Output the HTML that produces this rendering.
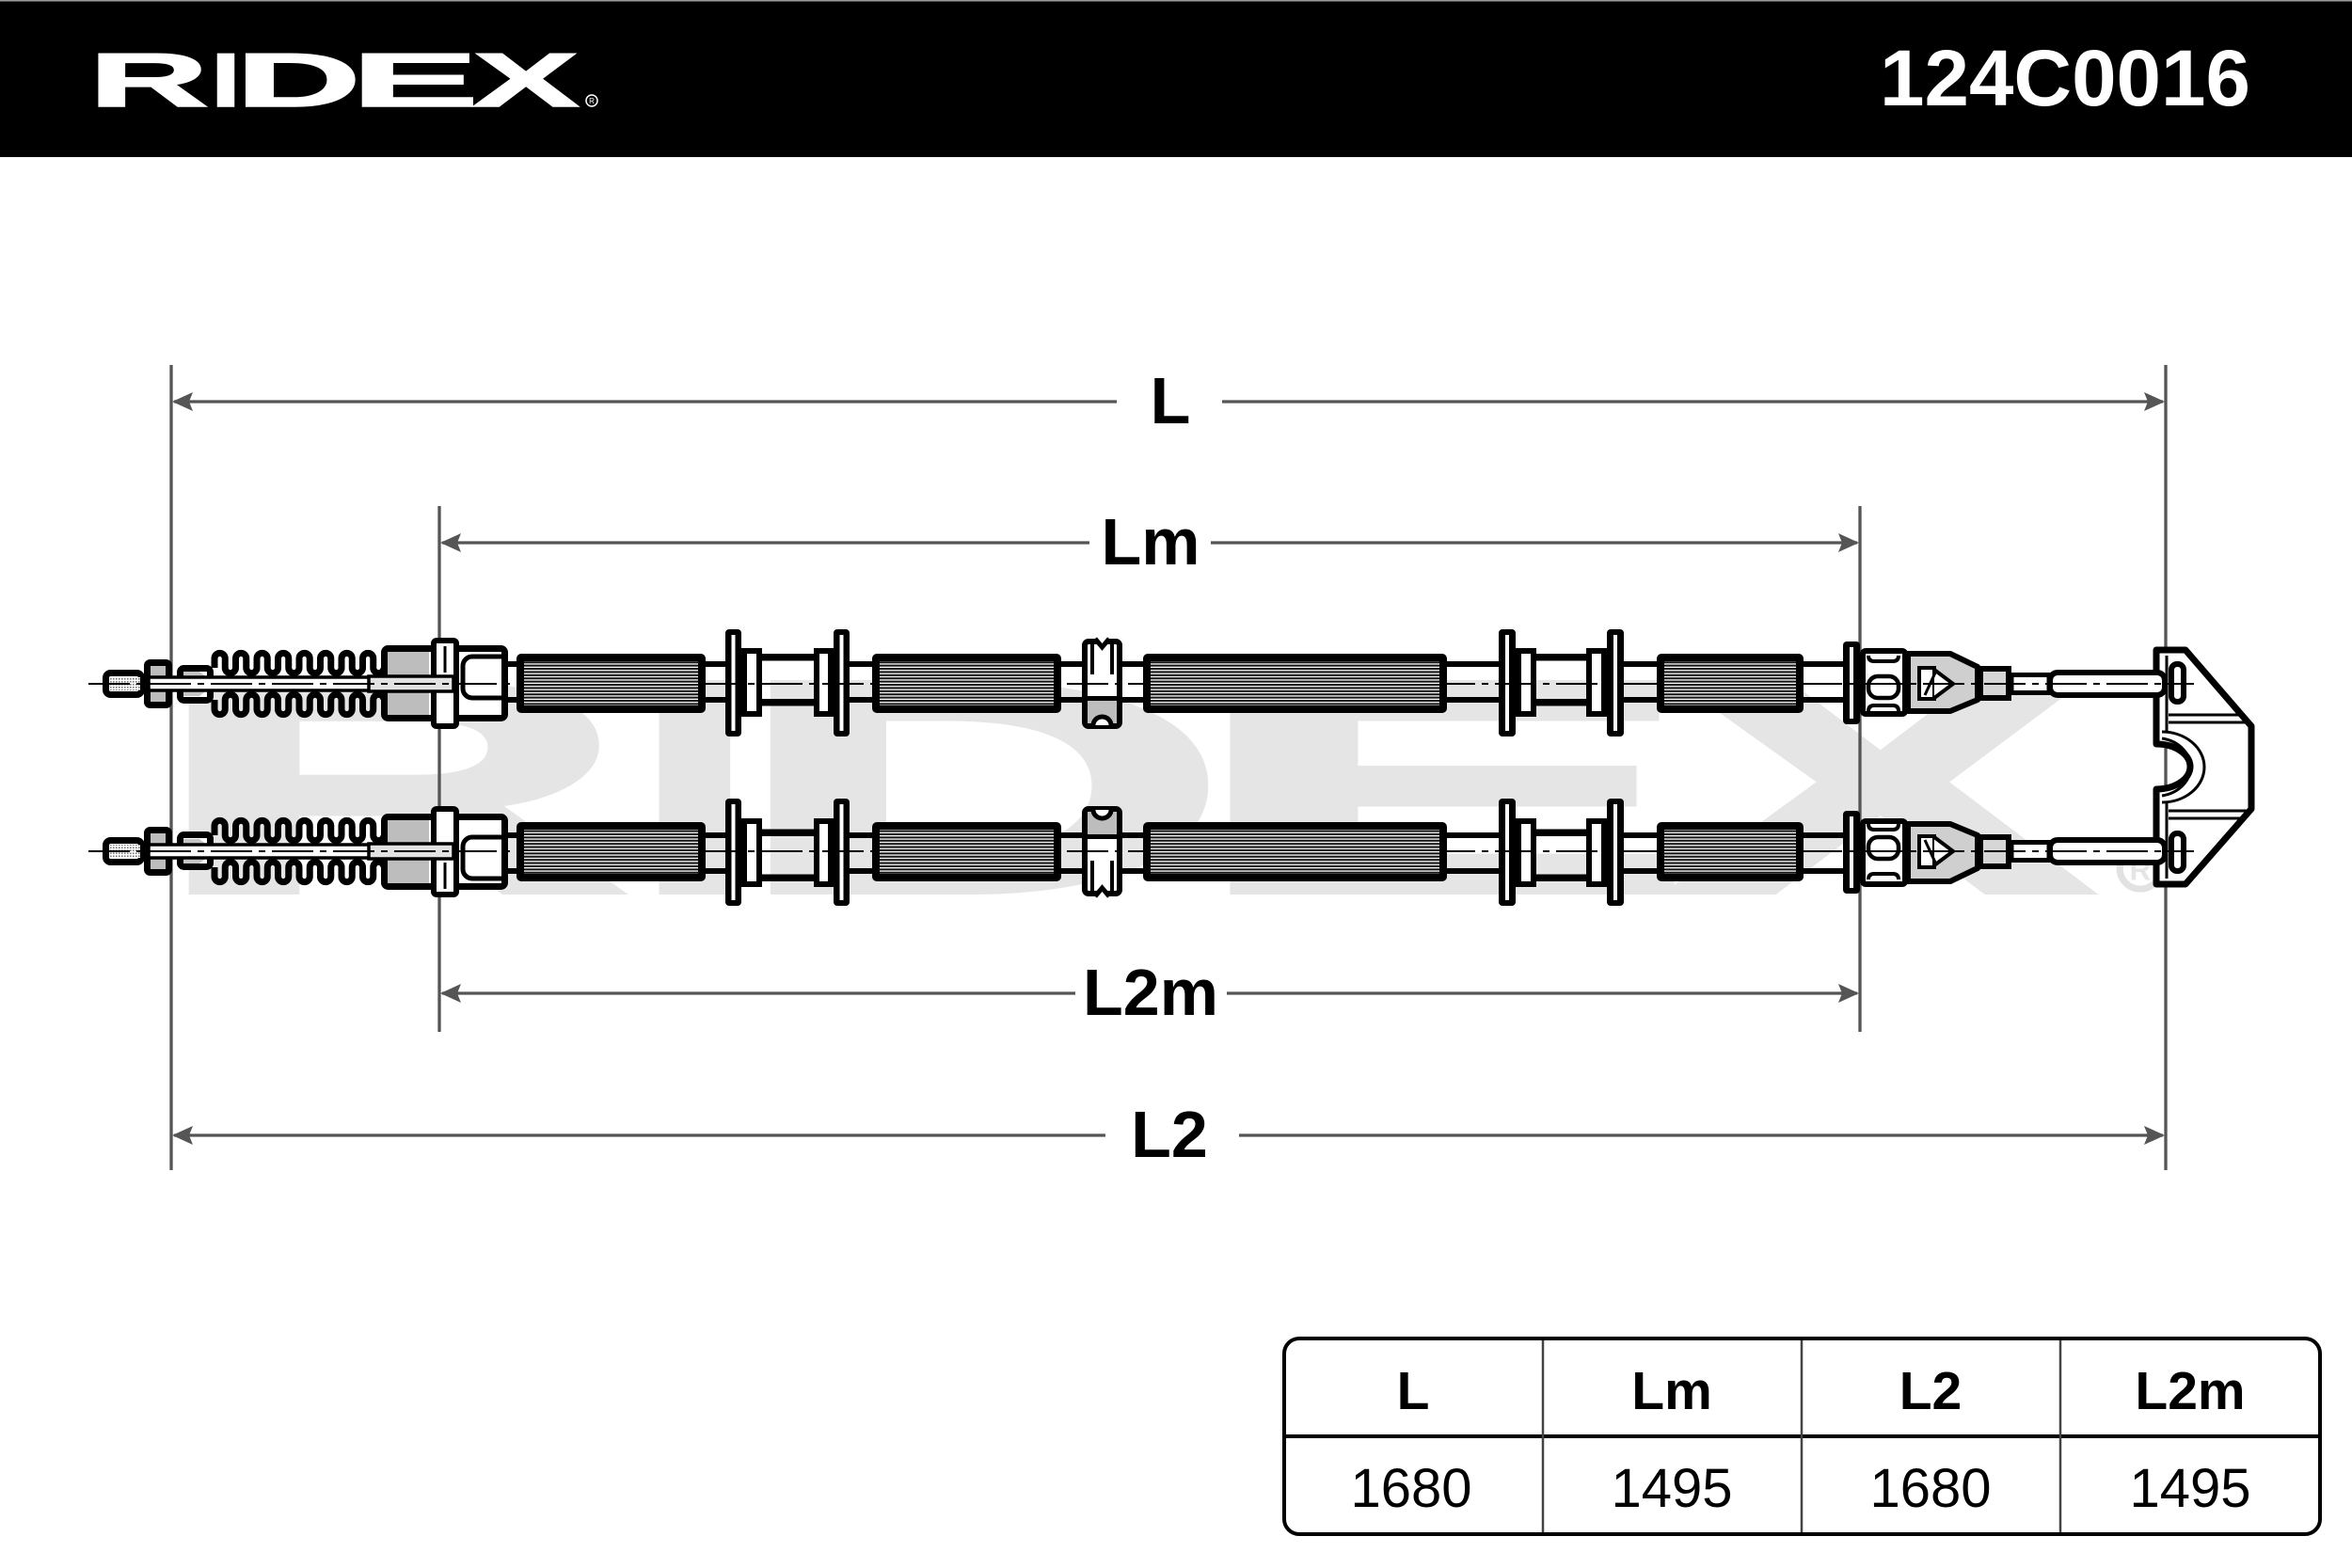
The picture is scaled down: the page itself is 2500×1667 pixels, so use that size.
<!DOCTYPE html>
<html>
<head>
<meta charset="utf-8">
<style>
  html,body{margin:0;padding:0;background:#fff;}
  svg{display:block;}
</style>
</head>
<body>
<svg xmlns="http://www.w3.org/2000/svg" xmlns:xlink="http://www.w3.org/1999/xlink" width="2500" height="1667" viewBox="0 0 2500 1667">
<defs>
  <pattern id="knurl" patternUnits="userSpaceOnUse" width="10" height="3.4">
    <rect width="10" height="3.4" fill="#151515"/>
    <rect y="2.1" width="10" height="1.3" fill="#fff"/>
  </pattern>
  <pattern id="thread" patternUnits="userSpaceOnUse" width="3" height="3">
    <rect width="3" height="3" fill="#fff"/>
    <rect width="1.6" height="1.6" fill="#7a7a7a"/>
  </pattern>

  <g id="cable">
    <!-- pipe segments -->
    <g fill="#000">
      <rect x="540" y="-24" width="12" height="6"/><rect x="540" y="14" width="12" height="6"/>
      <rect x="748" y="-24" width="25" height="6"/><rect x="748" y="14" width="25" height="6"/>
      <rect x="901" y="-24" width="28" height="6"/><rect x="901" y="14" width="28" height="6"/>
      <rect x="1126" y="-24" width="26" height="6"/><rect x="1126" y="14" width="26" height="6"/>
      <rect x="1191" y="-24" width="26" height="6"/><rect x="1191" y="14" width="26" height="6"/>
      <rect x="1536" y="-24" width="59" height="6"/><rect x="1536" y="14" width="59" height="6"/>
      <rect x="1724" y="-24" width="39" height="6"/><rect x="1724" y="14" width="39" height="6"/>
      <rect x="1915" y="-24" width="46" height="6"/><rect x="1915" y="14" width="46" height="6"/>
    </g>

    <!-- threaded end -->
    <rect x="112.5" y="-11.5" width="38" height="23" rx="5" fill="#fff" stroke="#000" stroke-width="7"/>
    <rect x="117" y="-7" width="32" height="14" fill="url(#thread)"/>
    <!-- nut -->
    <rect x="156.5" y="-22.5" width="23" height="45" rx="3" fill="#bdbdbd" stroke="#000" stroke-width="7"/>
    <!-- cap -->
    <rect x="191.5" y="-16.5" width="32" height="34" rx="4" fill="#fff" stroke="#000" stroke-width="7"/>
    <polygon points="195,-13 212,-13 221,-6 221,6 212,13 195,13" fill="#c4c4c4"/>
    <!-- rod -->
    <rect x="158" y="-7" width="235" height="14" fill="#fff" stroke="#000" stroke-width="3.5"/>
    <!-- bellows -->
    <path d="M228,-17v-10a5.625,5.625 0 0 1 11.25,0v10a5.625,5.625 0 0 0 11.25,0v-10a5.625,5.625 0 0 1 11.25,0v10a5.625,5.625 0 0 0 11.25,0v-10a5.625,5.625 0 0 1 11.25,0v10a5.625,5.625 0 0 0 11.25,0v-10a5.625,5.625 0 0 1 11.25,0v10a5.625,5.625 0 0 0 11.25,0v-10a5.625,5.625 0 0 1 11.25,0v10a5.625,5.625 0 0 0 11.25,0v-10a5.625,5.625 0 0 1 11.25,0v10a5.625,5.625 0 0 0 11.25,0v-10a5.625,5.625 0 0 1 11.25,0v10a5.625,5.625 0 0 0 11.25,0v-10a5.625,5.625 0 0 1 11.25,0v10a5.625,5.625 0 0 0 11.25,0" fill="none" stroke="#000" stroke-width="7"/>
    <path d="M228,17v10a5.625,5.625 0 0 0 11.25,0v-10a5.625,5.625 0 0 1 11.25,0v10a5.625,5.625 0 0 0 11.25,0v-10a5.625,5.625 0 0 1 11.25,0v10a5.625,5.625 0 0 0 11.25,0v-10a5.625,5.625 0 0 1 11.25,0v10a5.625,5.625 0 0 0 11.25,0v-10a5.625,5.625 0 0 1 11.25,0v10a5.625,5.625 0 0 0 11.25,0v-10a5.625,5.625 0 0 1 11.25,0v10a5.625,5.625 0 0 0 11.25,0v-10a5.625,5.625 0 0 1 11.25,0v10a5.625,5.625 0 0 0 11.25,0v-10a5.625,5.625 0 0 1 11.25,0v10a5.625,5.625 0 0 0 11.25,0v-10a5.625,5.625 0 0 1 11.25,0" fill="none" stroke="#000" stroke-width="7"/>

    <!-- housing -->
    <rect x="408.5" y="-37.5" width="128" height="74" rx="4" fill="#fff" stroke="#000" stroke-width="7"/>
    <rect x="412" y="-34" width="44" height="67" fill="#bdbdbd"/>
    <path d="M538,-29H502a10,10 0 0 0 -10,10v24a10,10 0 0 0 10,10H538" fill="none" stroke="#000" stroke-width="5"/>
    <rect x="461" y="-46" width="24" height="91" rx="3" fill="#fff" stroke="#000" stroke-width="6"/>
    <line x1="473" y1="-40" x2="473" y2="-12" stroke="#000" stroke-width="3"/>
    <rect x="392" y="-8" width="90" height="16" fill="#e2e2e2" stroke="#000" stroke-width="3.5"/>

    <!-- flange set 1 -->
    <rect x="810" y="-32" width="55" height="7.5" fill="#000"/>
    <rect x="810" y="16" width="55" height="7.5" fill="#000"/>
    <rect x="791" y="-35" width="16" height="67" fill="#fff" stroke="#000" stroke-width="6"/>
    <rect x="868" y="-35" width="15" height="67" fill="#fff" stroke="#000" stroke-width="6"/>
    <rect x="771" y="-58" width="17" height="114" rx="4" fill="#000"/>
    <rect x="777.5" y="-52" width="4" height="102" fill="#fff"/>
    <rect x="886" y="-58" width="17" height="114" rx="4" fill="#000"/>
    <rect x="892.5" y="-52" width="4" height="102" fill="#fff"/>

    <!-- flange set 2 -->
    <rect x="1633" y="-32" width="53" height="7.5" fill="#000"/>
    <rect x="1633" y="16" width="53" height="7.5" fill="#000"/>
    <rect x="1614" y="-35" width="16" height="67" fill="#fff" stroke="#000" stroke-width="6"/>
    <rect x="1689" y="-35" width="16" height="67" fill="#fff" stroke="#000" stroke-width="6"/>
    <rect x="1593" y="-58" width="18" height="114" rx="4" fill="#000"/>
    <rect x="1600" y="-52" width="4" height="102" fill="#fff"/>
    <rect x="1708" y="-58" width="18" height="114" rx="4" fill="#000"/>
    <rect x="1715" y="-52" width="4" height="102" fill="#fff"/>

    <!-- clip -->
    <rect x="1153" y="-45" width="37" height="90" rx="4" fill="#fff" stroke="#000" stroke-width="6"/>
    <path d="M1164,-48l7.5,9l7.5,-9" fill="#fff" stroke="#000" stroke-width="5"/>
    <line x1="1161" y1="-42" x2="1161" y2="-10" stroke="#000" stroke-width="4"/>
    <line x1="1182" y1="-42" x2="1182" y2="-10" stroke="#000" stroke-width="4"/>
    <rect x="1156" y="16" width="31" height="26" fill="#bdbdbd"/>
    <rect x="1153" y="13" width="37" height="5" fill="#000"/>
    <path d="M1162,44a9.5,9 0 0 1 19,0" fill="#fff" stroke="#000" stroke-width="5"/>

    <!-- right end flange -->
    <rect x="1959" y="-45" width="18" height="88" rx="4" fill="#000"/>
    <rect x="1966" y="-39" width="4" height="76" fill="#fff"/>
    <!-- ferrule housing -->
    <rect x="1980" y="-35" width="45" height="67" rx="3" fill="#fff" stroke="#000" stroke-width="6"/>
    <path d="M1986,-30q0,6 6,6h20q6,0 6,-6" fill="none" stroke="#000" stroke-width="4"/>
    <rect x="1986" y="-8" width="32" height="23" rx="10" fill="none" stroke="#000" stroke-width="4.5"/>
    <path d="M1986,29q0,-6 6,-6h20q6,0 6,6" fill="none" stroke="#000" stroke-width="4"/>
    <!-- cone -->
    <path d="M2028,-32H2073L2102,-18V17L2073,29H2028Z" fill="#cfcfcf" stroke="#000" stroke-width="6" stroke-linejoin="round"/>
    <rect x="2040" y="-17" width="16" height="33" fill="#fff" stroke="#000" stroke-width="4"/>
    <path d="M2056,-15L2076,0L2056,15" fill="#fff" stroke="#000" stroke-width="4"/>
    <line x1="2058" y1="-14" x2="2046" y2="12" stroke="#000" stroke-width="3"/>
    <!-- cup -->
    <rect x="2105" y="-16" width="30" height="31" fill="#d6d6d6" stroke="#000" stroke-width="6"/>
    <!-- thin cable -->
    <rect x="2138" y="-9.5" width="40" height="19" fill="#fff" stroke="#000" stroke-width="5"/>
    <!-- rod -->
    <rect x="2179" y="-12" width="122" height="24" rx="8" fill="#fff" stroke="#000" stroke-width="6"/>
    <!-- end head -->
    <rect x="2308" y="-21" width="13" height="40" rx="6" fill="#fff" stroke="#000" stroke-width="6"/>

    <!-- centerline -->
    <line x1="94" y1="0" x2="2332" y2="0" stroke="#000" stroke-width="2" stroke-dasharray="44 7 7 7"/>

    <!-- knurled tubes -->
    <rect x="549" y="-32" width="201" height="63" rx="5" fill="#000"/>
    <rect x="557" y="-24" width="185" height="47" fill="url(#knurl)"/>
    <rect x="927" y="-32" width="201" height="63" rx="5" fill="#000"/>
    <rect x="935" y="-24" width="185" height="47" fill="url(#knurl)"/>
    <rect x="1215" y="-32" width="323" height="63" rx="5" fill="#000"/>
    <rect x="1223" y="-24" width="307" height="47" fill="url(#knurl)"/>
    <rect x="1761" y="-32" width="156" height="63" rx="5" fill="#000"/>
    <rect x="1769" y="-24" width="140" height="47" fill="url(#knurl)"/>
  </g>
</defs>

<rect width="2500" height="1667" fill="#fff"/>

<!-- header -->
<rect x="0" y="0" width="2500" height="167" fill="#000"/>
<rect x="0" y="0" width="2500" height="1.5" fill="#9a9a9a"/>
<g font-family="'Liberation Sans', Arial, sans-serif" font-weight="700" font-size="81" text-anchor="middle" fill="#fff" stroke="#fff" stroke-width="1.5">
  <text transform="translate(158,113) scale(2.18,1)">R</text>
  <text transform="translate(240,113) scale(1.4,1)">I</text>
  <text transform="translate(317,113) scale(2.28,1)">D</text>
  <text transform="translate(441,113) scale(2.52,1)">E</text>
  <text transform="translate(559,113) scale(2.09,1)">X</text>
</g>
<circle cx="629" cy="107" r="6" fill="none" stroke="#fff" stroke-width="1.5"/>
<text x="629" y="110" font-family="'Liberation Sans', Arial, sans-serif" font-size="8" text-anchor="middle" fill="#fff">R</text>
<text x="1998" y="112" font-family="'Liberation Sans', Arial, sans-serif" font-weight="700" font-size="84" fill="#fff" textLength="394" lengthAdjust="spacingAndGlyphs">124C0016</text>

<!-- watermark -->
<g transform="translate(-209.65,500.75) scale(3.95)" font-family="'Liberation Sans', Arial, sans-serif" font-weight="700" font-size="81" text-anchor="middle" fill="#e5e5e5" stroke="#e5e5e5" stroke-width="2">
  <text transform="translate(158,113) scale(2.18,1)">R</text>
  <text transform="translate(240,113) scale(1.4,1)">I</text>
  <text transform="translate(317,113) scale(2.28,1)">D</text>
  <text transform="translate(441,113) scale(2.52,1)">E</text>
  <text transform="translate(559,113) scale(2.09,1)">X</text>
  <circle cx="629" cy="107" r="5.5" fill="none" stroke="#e2e2e2" stroke-width="1.8"/>
  <text x="629" y="110" font-size="8" stroke="none">R</text>
</g>

<!-- dimension lines -->
<g stroke="#555" stroke-width="3.3" fill="none">
  <line x1="182" y1="388" x2="182" y2="1244"/>
  <line x1="2302" y1="388" x2="2302" y2="1244"/>
  <line x1="467" y1="538" x2="467" y2="1097"/>
  <line x1="1977" y1="538" x2="1977" y2="1097"/>

  <line x1="185" y1="427" x2="1187" y2="427"/>
  <line x1="1299" y1="427" x2="2299" y2="427"/>
  <line x1="470" y1="577" x2="1158" y2="577"/>
  <line x1="1287" y1="577" x2="1974" y2="577"/>
  <line x1="470" y1="1056" x2="1143" y2="1056"/>
  <line x1="1304" y1="1056" x2="1974" y2="1056"/>
  <line x1="185" y1="1207" x2="1175" y2="1207"/>
  <line x1="1317" y1="1207" x2="2299" y2="1207"/>
</g>
<g fill="#555">
  <polygon points="183,427 205,417 201,427 205,437"/>
  <polygon points="2301,427 2279,417 2283,427 2279,437"/>
  <polygon points="468,577 490,567 486,577 490,587"/>
  <polygon points="1976,577 1954,567 1958,577 1954,587"/>
  <polygon points="468,1056 490,1046 486,1056 490,1066"/>
  <polygon points="1976,1056 1954,1046 1958,1056 1954,1066"/>
  <polygon points="183,1207 205,1197 201,1207 205,1217"/>
  <polygon points="2301,1207 2279,1197 2283,1207 2279,1217"/>
</g>
<g font-family="'Liberation Sans', Arial, sans-serif" font-weight="700" font-size="70" text-anchor="middle" fill="#000">
  <text x="1244" y="450">L</text>
  <text x="1223" y="600">Lm</text>
  <text x="1223" y="1079">L2m</text>
  <text x="1243" y="1230">L2</text>
</g>

<!-- bracket -->
<path d="M2292,691H2323L2393,772V860L2323,940H2292V839A36,24 0 0 0 2292,791Z" fill="#fff" stroke="#000" stroke-width="7" stroke-linejoin="round"/>
<g stroke="#000" stroke-width="3" fill="none">
  <line x1="2303" y1="697" x2="2303" y2="778"/>
  <line x1="2303" y1="853" x2="2303" y2="934"/>
  <line x1="2305" y1="760" x2="2383" y2="760"/>
  <line x1="2305" y1="768" x2="2389" y2="768"/>
  <line x1="2305" y1="862" x2="2391" y2="862"/>
  <line x1="2305" y1="870" x2="2384" y2="870"/>
  <path d="M2298,778A45,37.5 0 0 1 2298,853"/>
  <path d="M2298,785A37,31 0 0 1 2298,846"/>
</g>

<!-- cables -->
<use xlink:href="#cable" href="#cable" transform="translate(0,727)"/>
<use xlink:href="#cable" href="#cable" transform="translate(0,905) scale(1,-1)"/>

<!-- table -->
<rect x="1365" y="1423" width="1101" height="208" rx="16" fill="#fff" stroke="#000" stroke-width="4"/>
<line x1="1365" y1="1527" x2="2466" y2="1527" stroke="#000" stroke-width="4"/>
<g stroke="#444" stroke-width="2.5">
  <line x1="1640" y1="1425" x2="1640" y2="1629"/>
  <line x1="1915" y1="1425" x2="1915" y2="1629"/>
  <line x1="2190" y1="1425" x2="2190" y2="1629"/>
</g>
<g font-family="'Liberation Sans', Arial, sans-serif" font-weight="700" font-size="57" text-anchor="middle" fill="#000">
  <text x="1502" y="1498">L</text>
  <text x="1777" y="1498">Lm</text>
  <text x="2052" y="1498">L2</text>
  <text x="2328" y="1498">L2m</text>
</g>
<g font-family="'Liberation Sans', Arial, sans-serif" font-size="58" text-anchor="middle" fill="#000">
  <text x="1500" y="1602">1680</text>
  <text x="1777" y="1602">1495</text>
  <text x="2052" y="1602">1680</text>
  <text x="2328" y="1602">1495</text>
</g>
</svg>
</body>
</html>
